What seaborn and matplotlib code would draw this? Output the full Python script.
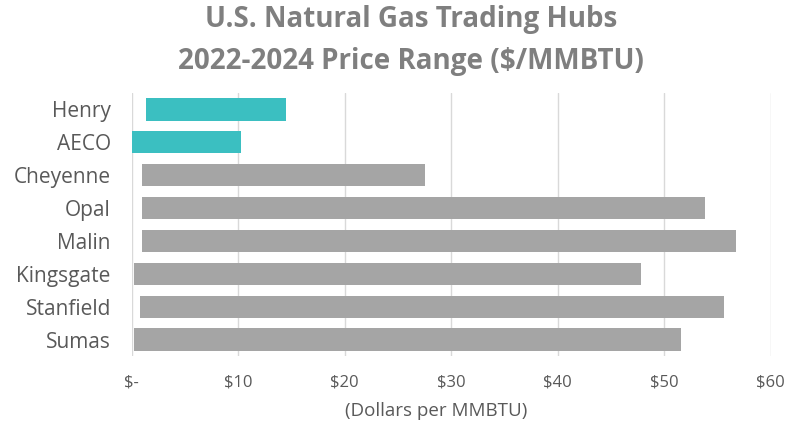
import numpy as np
import pandas as pd
import matplotlib
matplotlib.use("Agg")
import matplotlib.pyplot as plt
import seaborn as sns

hubs = ["Henry", "AECO", "Cheyenne", "Opal", "Malin", "Kingsgate", "Stanfield", "Sumas"]
price_min = [1.3, 0.05, 0.95, 0.95, 0.95, 0.25, 0.8, 0.25]
price_max = [14.45, 10.3, 27.5, 53.8, 56.7, 47.8, 55.6, 51.6]
highlight = ["teal", "teal", "gray", "gray", "gray", "gray", "gray", "gray"]
tick_vals = [0, 10, 20, 30, 40, 50, 60]
tick_labels = ["$-", "$10", "$20", "$30", "$40", "$50", "$60"]

colors = {"teal": "#3BBFC1", "gray": "#A5A5A5"}

sns.set_theme(style="white")
plt.rcParams["font.family"] = ["Open Sans", "DejaVu Sans"]

df = pd.DataFrame({"hub": hubs,
                   "lo": price_min,
                   "hi": price_max})
df["span"] = df["hi"] - df["lo"]

fig = plt.figure(figsize=(7.9, 4.26), dpi=100)
ax = fig.add_axes([131.7 / 790, 1 - 356 / 426, (770.7 - 131.7) / 790, (356 - 93) / 426])

sns.barplot(data=df, x="span", y="hub", orient="y", ax=ax, left=df["lo"].values,
            width=0.68, color="#A5A5A5", edgecolor="none")
for patch, h in zip(ax.patches, highlight):
    patch.set_facecolor(colors[h])

ax.set_xlim(0, 60)
ax.set_xticks(tick_vals)
ax.set_xticklabels(tick_labels, fontsize=12, color="#595959")
ax.tick_params(axis="y", labelsize=15, labelcolor="#595959", pad=15, length=0)
ax.tick_params(axis="x", pad=13, length=0)
ax.xaxis.grid(True, color="#D9D9D9", linewidth=1)
ax.set_axisbelow(True)
for s in ax.spines.values():
    s.set_visible(False)
ax.set_ylabel("")
ax.set_xlabel("")

fig.text(436 / 790, 1 - 411 / 426, "(Dollars per MMBTU)", ha="center", va="center",
         fontsize=13.5, color="#595959")
fig.text(411 / 790, 1 - 20 / 426, "U.S. Natural Gas Trading Hubs", ha="center", va="center",
         fontsize=20, fontweight="bold", color="#7F7F7F")
fig.text(411 / 790, 1 - 61 / 426, "2022-2024 Price Range ($/MMBTU)", ha="center", va="center",
         fontsize=20, fontweight="bold", color="#7F7F7F")

fig.savefig("out.png", dpi=100)
